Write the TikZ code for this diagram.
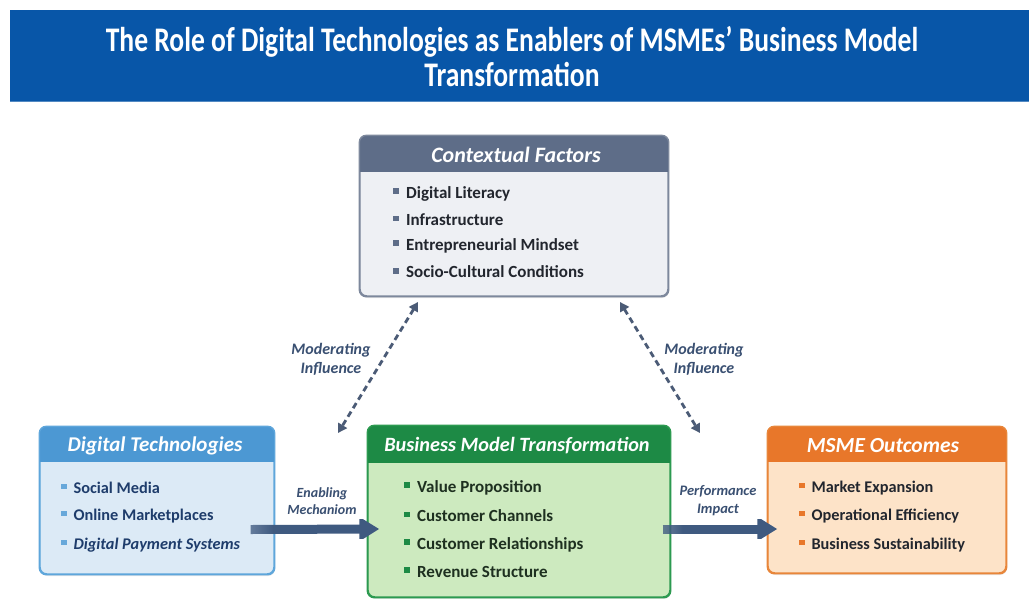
\documentclass[tikz,border=0pt]{standalone}
\usepackage{fontspec}
\setmainfont{Carlito}
\newfontfamily\titlefont[FakeStretch=0.8]{Carlito}
\usetikzlibrary{arrows.meta,fadings,shadows}

% colour scheme
\definecolor{banner}{HTML}{0856A8}
\definecolor{cfhead}{HTML}{5E6D88}
\definecolor{cfbody}{HTML}{EEF0F4}
\definecolor{cfline}{HTML}{7D889C}
\definecolor{dthead}{HTML}{4C98D3}
\definecolor{dtbody}{HTML}{DCEAF6}
\definecolor{dtline}{HTML}{5EA6DB}
\definecolor{dttext}{HTML}{1E3C6B}
\definecolor{bmhead}{HTML}{1D8A45}
\definecolor{bmbody}{HTML}{CDEABF}
\definecolor{bmline}{HTML}{2C9A50}
\definecolor{bmtext}{HTML}{1E3020}
\definecolor{mohead}{HTML}{E8772A}
\definecolor{mobody}{HTML}{FDE3C8}
\definecolor{moline}{HTML}{E8863A}
\definecolor{arrowc}{HTML}{3F5A80}
\definecolor{labelc}{HTML}{3A5072}
\definecolor{dashc}{HTML}{4B5B76}
\definecolor{itemtext}{HTML}{22262E}

% fading for the thick arrows: soft start, solid after a short ramp
\pgfdeclarehorizontalshading{arrowramp}{100bp}{color(0bp)=(transparent!100); color(35bp)=(transparent!0); color(100bp)=(transparent!0)}
\pgfdeclarefading{arrowfade}{\pgfuseshading{arrowramp}}

\tikzset{
  panel/.style={draw=#1, line width=1.4pt, rounded corners=7pt, inner sep=0pt,
    drop shadow={opacity=0.18, shadow xshift=1pt, shadow yshift=-2pt}},
  headtext/.style={text=white, font=\fontsize{22}{24}\selectfont\bfseries\itshape},
  item/.style={anchor=west, inner sep=0pt, font=\fontsize{17}{19}\selectfont\bfseries},
  smallitem/.style={item, font=\fontsize{16.3}{19}\selectfont\bfseries},
  flowlabel/.style={text=labelc, align=center, inner sep=0pt,
    font=\fontsize{14.5}{18}\selectfont\bfseries\itshape},
  modlabel/.style={flowlabel, font=\fontsize{16}{19}\selectfont\bfseries\itshape},
  bigarrow/.style={draw=arrowc, line width=9pt, path fading=arrowfade,
    -{Triangle[width=23pt,length=20pt]}},
  modarrow/.style={draw=dashc, line width=2.8pt, dash pattern=on 6pt off 4pt,
    {Triangle[width=10pt,length=9pt]}-{Triangle[width=10pt,length=9pt]}}
}
\newcommand{\bul}[1]{\textcolor{#1}{\rule[0.26em]{0.34em}{0.34em}}\hspace{0.42em}}

\begin{document}
\begin{tikzpicture}[x=1pt,y=-1pt]
\useasboundingbox[fill=white] (0,0) rectangle (1029,598);

% title banner
\fill[banner] (10,10) rectangle (1029,102);
\fill[banner!70!white] (10,100.5) rectangle (1029,102);
\node[text=white, align=center, font=\titlefont\fontsize{34.5}{35}\selectfont\bfseries]
  (title) at (512,57) {The Role of Digital Technologies as Enablers of MSMEs’ Business Model\\Transformation};

% --- Contextual Factors ---
\node[panel=cfline, fill=cfbody, minimum width=308pt, minimum height=160pt] (cf) at (514,216) {};
\begin{scope}
  \clip[rounded corners=7pt] (cf.north west) rectangle (cf.south east);
  \fill[cfhead] (cf.north west) rectangle ([yshift=-37pt]cf.north east);
\end{scope}
\draw[cfline, line width=1.4pt, rounded corners=7pt] (cf.north west) rectangle (cf.south east);
\node[headtext] (cfh) at (516,155) {Contextual Factors};
\node[item, text=itemtext] (cf1) at (393,194) {\bul{cfhead}Digital Literacy};
\node[item, text=itemtext] (cf2) at (393,220) {\bul{cfhead}Infrastructure};
\node[item, text=itemtext] (cf3) at (393,246) {\bul{cfhead}Entrepreneurial Mindset};
\node[item, text=itemtext] (cf4) at (393,272) {\bul{cfhead}Socio-Cultural Conditions};

% --- Digital Technologies ---
\node[panel=dtline, fill=dtbody, minimum width=234pt, minimum height=147pt] (dt) at (157,500.5) {};
\begin{scope}
  \clip[rounded corners=7pt] (dt.north west) rectangle (dt.south east);
  \fill[dthead] (dt.north west) rectangle ([yshift=-36pt]dt.north east);
\end{scope}
\draw[dtline, line width=1.4pt, rounded corners=7pt] (dt.north west) rectangle (dt.south east);
\node[headtext, font=\fontsize{21}{23}\selectfont\bfseries\itshape] (dth) at (155,446) {Digital Technologies};
\node[smallitem, text=dttext] (dt1) at (61,488) {\bul{dthead!85!white}Social Media};
\node[smallitem, text=dttext] (dt2) at (61,516) {\bul{dthead!85!white}Online Marketplaces};
\node[smallitem, text=dttext] (dt3) at (61,545) {\bul{dthead!85!white}\itshape Digital Payment Systems};

% --- Business Model Transformation ---
\node[panel=bmline, fill=bmbody, minimum width=302pt, minimum height=171pt] (bm) at (519,511.5) {};
\begin{scope}
  \clip[rounded corners=7pt] (bm.north west) rectangle (bm.south east);
  \fill[bmhead] (bm.north west) rectangle ([yshift=-38pt]bm.north east);
\end{scope}
\draw[bmline, line width=1.4pt, rounded corners=7pt] (bm.north west) rectangle (bm.south east);
\node[headtext, font=\fontsize{20.3}{23}\selectfont\bfseries\itshape] (bmh) at (517,446) {Business Model Transformation};
\node[item, text=bmtext] (bm1) at (404,488) {\bul{bmhead}Value Proposition};
\node[item, text=bmtext] (bm2) at (404,516) {\bul{bmhead}Customer Channels};
\node[item, text=bmtext] (bm3) at (404,545) {\bul{bmhead}Customer Relationships};
\node[item, text=bmtext] (bm4) at (404,572) {\bul{bmhead}Revenue Structure};

% --- MSME Outcomes ---
\node[panel=moline, fill=mobody, minimum width=238pt, minimum height=146pt] (mo) at (887,500) {};
\begin{scope}
  \clip[rounded corners=7pt] (mo.north west) rectangle (mo.south east);
  \fill[mohead] (mo.north west) rectangle ([yshift=-36pt]mo.north east);
\end{scope}
\draw[moline, line width=1.4pt, rounded corners=7pt] (mo.north west) rectangle (mo.south east);
\node[headtext, font=\fontsize{21.5}{23}\selectfont\bfseries\itshape] (moh) at (883,446) {MSME Outcomes};
\node[smallitem, text=itemtext] (mo1) at (799,488) {\bul{mohead}Market Expansion};
\node[smallitem, text=itemtext] (mo2) at (799,516) {\bul{mohead}Operational Efficiency};
\node[smallitem, text=itemtext] (mo3) at (799,545) {\bul{mohead}Business Sustainability};

% --- flow arrows between the lower panels ---
\draw[bigarrow] ([xshift=-24pt,yshift=-29pt]dt.east) -- ([xshift=12pt,yshift=-17.5pt]bm.west);
\draw[bigarrow] ([xshift=-8pt,yshift=-17.5pt]bm.east) -- ([xshift=10pt,yshift=-29pt]mo.west);
\node[flowlabel, font=\fontsize{14}{17.5}\selectfont\bfseries\itshape] (enl) at (322,501) {Enabling\\Mechaniom};
\node[flowlabel] (pil) at (718,501) {Performance\\Impact};

% --- moderating links from the contextual factors ---
\coordinate (cfl) at (418,302);
\coordinate (cfr) at (620,302);
\coordinate (lowl) at (338,433);
\coordinate (lowr) at (700,433);
\draw[modarrow] (cfl) -- (lowl);
\draw[modarrow] (cfr) -- (lowr);
\node[modlabel] (ml) at (331,359) {Moderating\\Influence};
\node[modlabel] (mr) at (704,359) {Moderating\\Influence};
\end{tikzpicture}
\end{document}
